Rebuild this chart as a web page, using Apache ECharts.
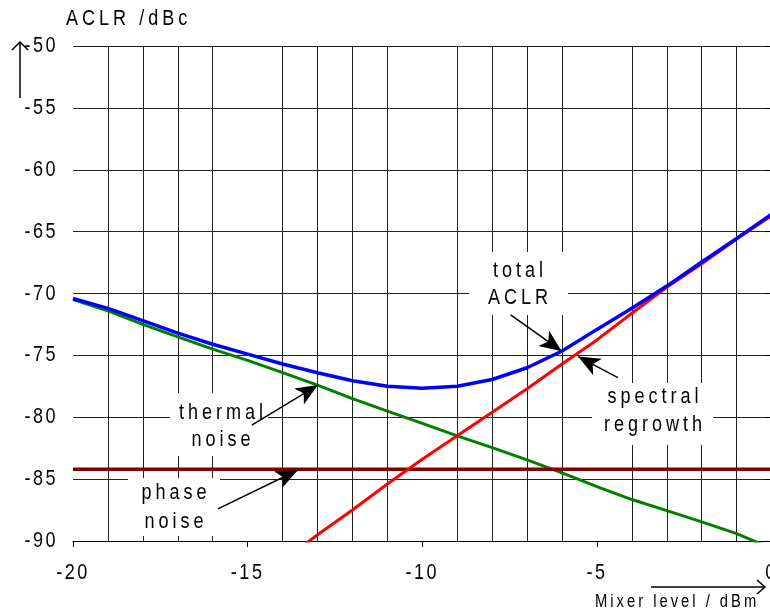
<!DOCTYPE html>
<html><head><meta charset="utf-8">
<script src="https://cdn.jsdelivr.net/npm/echarts@6/dist/echarts.min.js"></script>
<style>html,body{margin:0;padding:0;background:#fff}#chart{width:770px;height:612px}</style>
</head><body><div id="chart"></div>
<script>
// ---- data ----
const mixerLevels = [-20,-19,-18,-17,-16,-15,-14,-13,-12,-11,-10,-9,-8,-7,-6,-5,-4,-3,-2,-1,0];
const totalAclr =        [-70.4,-71.2,-72.2,-73.2,-74.1,-74.9,-75.7,-76.4,-77.05,-77.5,-77.65,-77.5,-76.95,-76.0,-74.65,-72.9,-71.2,-69.4,-67.45,-65.55,-63.6];
const spectralRegrowth = [null,null,null,null,null,null,-91.6,-89.5,-87.5,-85.4,-83.4,-81.5,-79.6,-77.7,-75.7,-73.75,-71.6,-69.5,-67.6,-65.6,-63.7];
const thermalNoise =     [-70.5,-71.4,-72.5,-73.5,-74.5,-75.4,-76.4,-77.4,-78.5,-79.5,-80.5,-81.5,-82.45,-83.45,-84.5,-85.6,-86.65,-87.55,-88.45,-89.4,-90.6];
const phaseNoise =       [-84.2,-84.2,-84.2,-84.2,-84.2,-84.2,-84.2,-84.2,-84.2,-84.2,-84.2,-84.2,-84.2,-84.2,-84.2,-84.2,-84.2,-84.2,-84.2,-84.2,-84.2];
const xRange = [-20, 0];
const yRange = [-90, -50];
const tickStep = 5;
// annotation arrows: [from, to] in data coordinates
const arrowTotal    = [[-7.47,-71.73],[-6.01,-74.66]];
const arrowSpectral = [[-4.40,-76.80],[-5.54,-75.10]];
const arrowThermal  = [[-14.88,-80.63],[-12.99,-77.40]];
const arrowPhase    = [[-15.85,-87.40],[-13.56,-84.26]];
const labelTexts = ['total\nACLR','spectral\nregrowth','thermal\nnoise','phase\nnoise'];
const yAxisTitle = 'ACLR /dBc';
const xAxisTitle = 'Mixer level / dBm';

// condensed, letter-spaced text rendering (like the original narrow font)
(function(){
  const proto = CanvasRenderingContext2D.prototype;
  const orig = proto.fillText;
  proto.fillText = function(text, x, y){
    const s = String(text);
    let sp = 4;
    if (/^[-0-9.]+$/.test(s)) sp = 2.5;
    else if (s.indexOf('Mixer') === 0) sp = 3;
    this.save();
    this.translate(x, y);
    this.scale(0.82, 1);
    try { this.letterSpacing = (sp/0.82).toFixed(2) + 'px'; } catch(e) {}
    orig.call(this, s, 0, 0);
    this.restore();
  };
})();

function pairs(arr){
  const out = [];
  arr.forEach((v,i)=>{ if (v !== null) out.push([mixerLevels[i], v]); });
  return out;
}
function arrow(a){ return [{coord:a[0]},{coord:a[1]}]; }

const FONT = '"Liberation Sans", Arial, sans-serif';
const chart = echarts.init(document.getElementById('chart'), null, {renderer:'canvas'});
const axisLine = {show:true, lineStyle:{color:'#000', width:1}};
const gridLine = {show:true, lineStyle:{color:'#222', width:1}};

chart.setOption({
  animation:false,
  backgroundColor:'#fff',
  grid:{left:73, top:46, width:698.6, height:495, containLabel:false, outerBoundsMode:'none'},
  xAxis:{
    type:'value', min:xRange[0], max:xRange[1], interval:tickStep,
    axisLine:axisLine,
    axisTick:{show:true, length:6, lineStyle:{color:'#000'}},
    axisLabel:{color:'#000', fontFamily:FONT, fontSize:22, margin:21, hideOverlap:false},
    splitLine:{show:false},
    minorTick:{show:false, splitNumber:5},
    minorSplitLine:gridLine
  },
  yAxis:{
    type:'value', min:yRange[0], max:yRange[1], interval:tickStep,
    axisLine:axisLine,
    axisTick:{show:true, length:6, lineStyle:{color:'#000'}},
    axisLabel:{color:'#000', fontFamily:FONT, fontSize:22, margin:15},
    splitLine:gridLine
  },
  series:[
    {name:'thermal noise', type:'line', data:pairs(thermalNoise), showSymbol:false, clip:true,
     lineStyle:{color:'#008000', width:3}, z:3},
    {name:'phase noise', type:'line', data:pairs(phaseNoise), showSymbol:false, clip:true,
     lineStyle:{color:'#800000', width:3.5}, z:3,
     markLine:{silent:true, symbol:['none','arrow'], symbolSize:[14,22],
       label:{show:false}, lineStyle:{color:'#000', width:1.5, type:'solid'},
       emphasis:{disabled:true},
       data:[arrow(arrowTotal), arrow(arrowSpectral), arrow(arrowThermal), arrow(arrowPhase)]}},
    {name:'spectral regrowth', type:'line', data:pairs(spectralRegrowth), showSymbol:false, clip:true,
     lineStyle:{color:'#ff0000', width:3}, z:4},
    {name:'total ACLR', type:'line', data:pairs(totalAclr), showSymbol:false, clip:true,
     lineStyle:{color:'#0000ff', width:3.5}, z:5}
  ],
  graphic:[
    {type:'rect', z:1, shape:{x:469,y:252,width:99,height:63}, style:{fill:'#fff'}},
    {type:'rect', z:1, shape:{x:592,y:383,width:121,height:62}, style:{fill:'#fff'}},
    {type:'rect', z:1, shape:{x:170,y:393,width:98,height:63}, style:{fill:'#fff'}},
    {type:'rect', z:1, shape:{x:128,y:478,width:92,height:58}, style:{fill:'#fff'}},
    {type:'text', z:10, style:{text:labelTexts[0], x:520, y:284, align:'center', verticalAlign:'middle', font:'22px '+FONT, lineHeight:27, fill:'#000'}},
    {type:'text', z:10, style:{text:labelTexts[1], x:655, y:411, align:'center', verticalAlign:'middle', font:'22px '+FONT, lineHeight:28, fill:'#000'}},
    {type:'text', z:10, style:{text:labelTexts[2], x:223, y:426, align:'center', verticalAlign:'middle', font:'22px '+FONT, lineHeight:27, fill:'#000'}},
    {type:'text', z:10, style:{text:labelTexts[3], x:176, y:507, align:'center', verticalAlign:'middle', font:'22px '+FONT, lineHeight:29, fill:'#000'}},
    {type:'text', z:10, style:{text:yAxisTitle, x:66, y:19, align:'left', verticalAlign:'middle', font:'22px '+FONT, fill:'#000'}},
    {type:'text', z:10, style:{text:xAxisTitle, x:595, y:602, align:'left', verticalAlign:'middle', font:'18px '+FONT, fill:'#000'}},
    {type:'polyline', z:10, shape:{points:[[20,98],[20,42]]}, style:{stroke:'#000', lineWidth:1.5, fill:null}},
    {type:'polyline', z:10, shape:{points:[[12,50],[20,42],[28,50]]}, style:{stroke:'#000', lineWidth:1.5, fill:null}},
    {type:'polyline', z:10, shape:{points:[[651,587],[765,587]]}, style:{stroke:'#000', lineWidth:1.5, fill:null}},
    {type:'polyline', z:10, shape:{points:[[757,580],[765,587],[757,594]]}, style:{stroke:'#000', lineWidth:1.5, fill:null}}
  ]
});
</script></body></html>
